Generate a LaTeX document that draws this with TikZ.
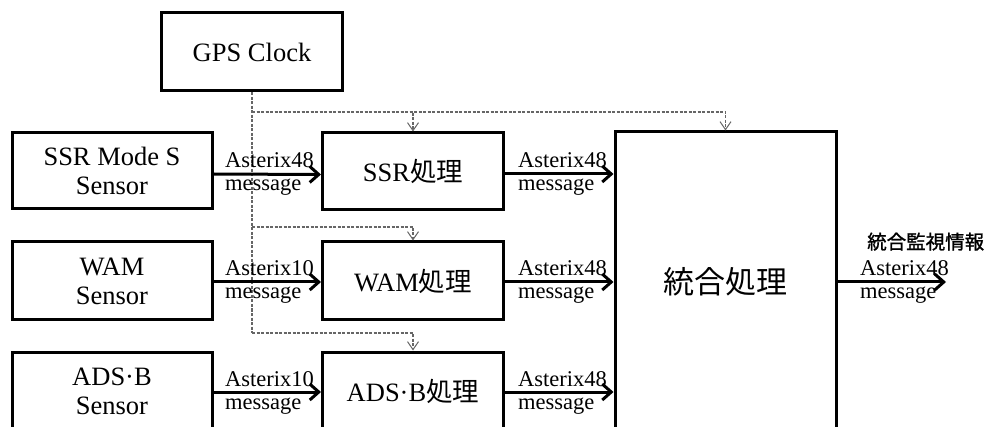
\documentclass[tikz,border=0pt]{standalone}
\usepackage{fontspec}
\setmainfont{Liberation Serif}
\newfontfamily\jp{Noto Sans CJK JP}
\newfontfamily\jpb[FakeBold=1.2]{Noto Sans CJK JP}
\usetikzlibrary{arrows.meta,positioning}
\begin{document}
\begin{tikzpicture}[x=1pt,y=-1pt,
  box/.style={draw=black,line width=3pt,rectangle,inner sep=0pt,align=center,
    font=\fontsize{26.5}{29}\selectfont},
  flow/.style={line width=3pt,-{Straight Barb[length=9pt,width=16pt]}},
  sync/.style={draw=black!60,line width=1.1pt,dash pattern=on 3pt off 1.5pt,
    -{Straight Barb[length=8pt,width=11pt,line width=1pt]}},
  syncline/.style={draw=black!60,line width=1.1pt,dash pattern=on 3pt off 1.5pt},
  lbl/.style={anchor=base west,inner sep=0pt,font=\fontsize{22.5}{22.5}\selectfont}
]
\useasboundingbox (0,0) rectangle (987,427);
\clip (0,0) rectangle (987,427);
\fill[white] (0,0) rectangle (987,427);

% boxes
\node[box,minimum width=181pt,minimum height=78pt] (gps) at (252,52) {GPS Clock};
\node[box,minimum width=200pt,minimum height=76pt] (ssrS) at (112,171) {SSR Mode S\\Sensor};
\node[box,minimum width=200pt,minimum height=78pt] (wamS) at (112,281) {WAM\\Sensor};
\node[box,minimum width=200pt,minimum height=78pt] (adsS) at (112,391) {ADS·B\\Sensor};
\node[box,minimum width=181pt,minimum height=77pt] (ssrP) at (413,171.5) {SSR{\jp 処理}};
\node[box,minimum width=181pt,minimum height=78pt] (wamP) at (413,281) {WAM{\jp 処理}};
\node[box,minimum width=181pt,minimum height=78pt] (adsP) at (413,391) {ADS·B{\jp 処理}};
\node[box,minimum width=221pt,minimum height=300pt,font=\jp\fontsize{31}{31}\selectfont] (fuse) at (725.5,282) {統合処理};

% dashed sync lines
\coordinate (j1) at (252,112);
\coordinate (j2) at (252,227);
\coordinate (j3) at (252,333);
\draw[syncline] (gps.south) -- (j3);
\draw[sync] (j1) -| (ssrP.north);
\draw[sync] (j1) -| (fuse.north);
\draw[sync] (j2) -| (wamP.north);
\draw[sync] (j3) -| (adsP.north);

% flow arrows
\draw[flow] ([yshift=-3pt]ssrS.east) -- ([yshift=-3pt]ssrP.west);
\draw[flow] ([yshift=-1pt]wamS.east) -- ([yshift=-1pt]wamP.west);
\draw[flow] ([yshift=-1pt]adsS.east) -- ([yshift=-1pt]adsP.west);
\draw[flow] (ssrP.east |- 0,174) coordinate (a1) -- (fuse.west |- a1);
\draw[flow] (wamP.east |- 0,282) coordinate (a2) -- (fuse.west |- a2);
\draw[flow] (adsP.east |- 0,392) coordinate (a3) -- (fuse.west |- a3);
\coordinate (out) at (946,282);
\draw[flow] (fuse.east) -- (out);

% labels
\node[lbl] (l1a) at (225,168) {Asterix48};
\node[lbl] (l1b) at (225,191) {message};
\node[lbl] (l2a) at (225,276) {Asterix10};
\node[lbl] (l2b) at (225,299) {message};
\node[lbl] (l3a) at (225,386) {Asterix10};
\node[lbl] (l3b) at (225,409) {message};
\node[lbl] (l4a) at (518,168) {Asterix48};
\node[lbl] (l4b) at (518,191) {message};
\node[lbl] (l5a) at (518,276) {Asterix48};
\node[lbl] (l5b) at (518,299) {message};
\node[lbl] (l6a) at (518,386) {Asterix48};
\node[lbl] (l6b) at (518,409) {message};
\node[lbl] (l7a) at (860,276) {Asterix48};
\node[lbl] (l7b) at (860,299) {message};
\node[anchor=base west,inner sep=0pt,font=\jpb\fontsize{19.5}{19.5}\selectfont] (info) at (867,249) {統合監視情報};
\end{tikzpicture}
\end{document}
